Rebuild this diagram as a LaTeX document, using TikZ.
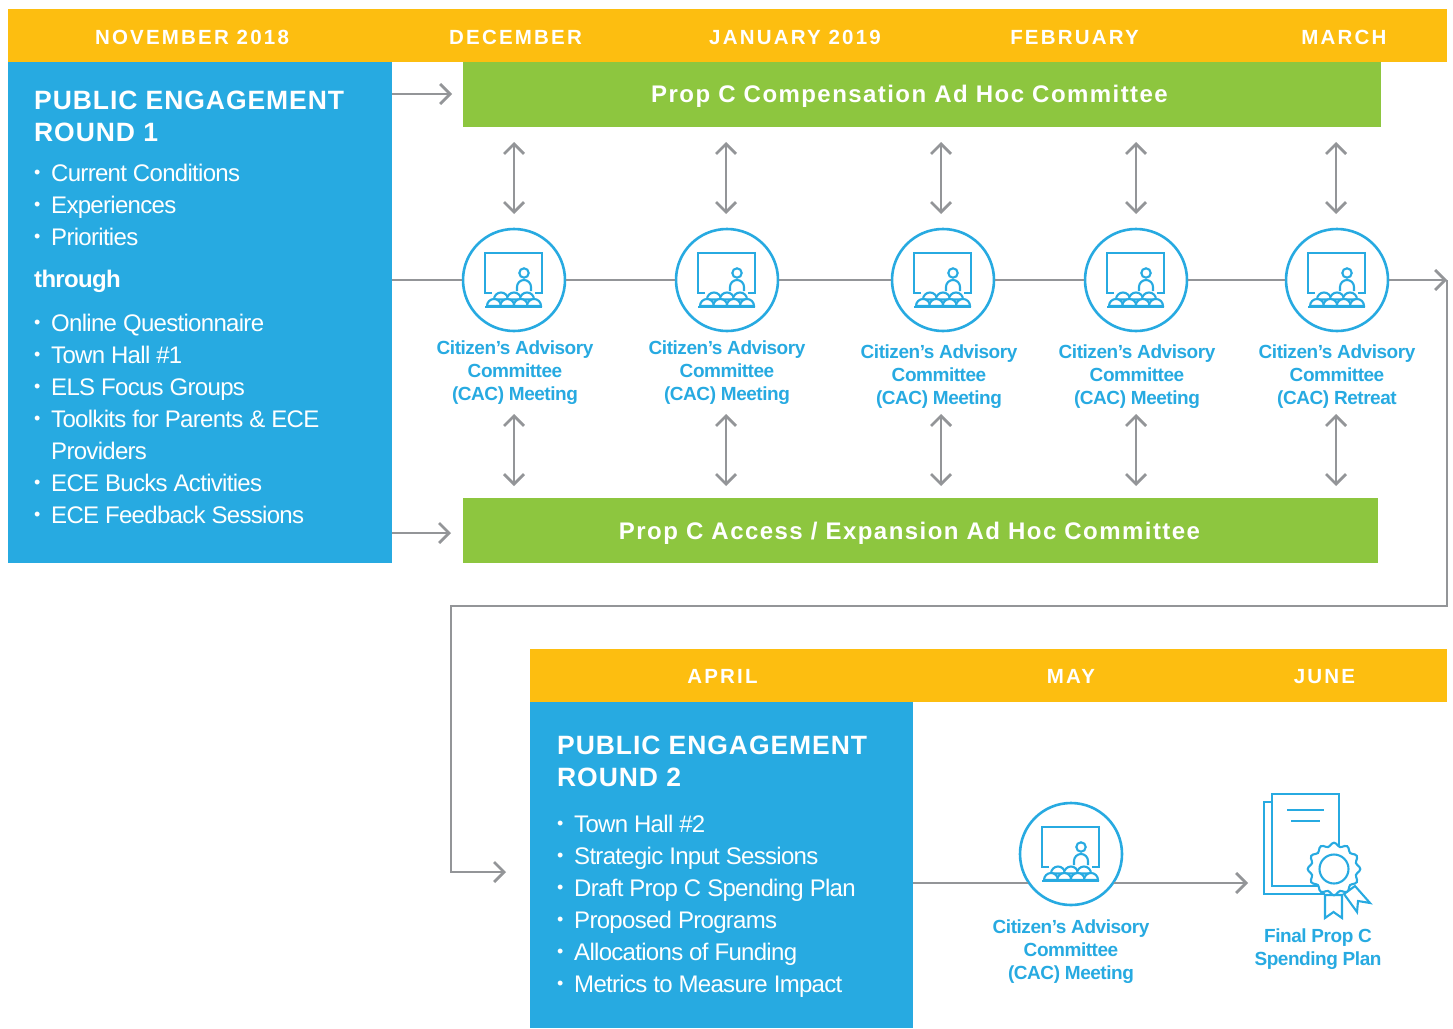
\documentclass[tikz,border=0pt]{standalone}
\usepackage{fontspec}
\usetikzlibrary{arrows.meta}
\setmainfont[LetterSpace=-2.9]{Liberation Sans}
\newfontfamily\capsfont[LetterSpace=10.7]{Liberation Sans}
\newfontfamily\barfont[LetterSpace=6]{Liberation Sans}
\newfontfamily\titlefont[LetterSpace=3.5]{Liberation Sans}
\newfontfamily\captionfont[LetterSpace=-2.4]{Liberation Sans}
\definecolor{bandyellow}{HTML}{FDBE10}
\definecolor{boxblue}{HTML}{27AAE1}
\definecolor{bargreen}{HTML}{8DC63F}
\definecolor{linegray}{HTML}{939598}
\tikzset{
    band/.style={fill=bandyellow,inner sep=0pt,minimum height=53pt},
    month/.style={anchor=base,text=white,inner sep=0pt,font=\capsfont\bfseries\fontsize{20.5}{24}\selectfont},
    bluebox/.style={fill=boxblue,inner sep=0pt},
    greenbar/.style={fill=bargreen,inner sep=0pt,minimum height=65pt},
    barlabel/.style={text=white,inner sep=0pt,font=\barfont\bfseries\fontsize{24}{28}\selectfont},
    boxtitle/.style={anchor=base west,text=white,inner sep=0pt,align=left,font=\titlefont\bfseries\fontsize{26.5}{32}\selectfont},
    boxitem/.style={anchor=base west,text=white,inner sep=0pt,font=\fontsize{24}{28}\selectfont},
    itemdot/.style={anchor=base west,text=white,inner sep=0pt,font=\fontsize{18}{28}\selectfont},
    meeting/.style={circle,draw=boxblue,line width=2.6pt,fill=white,minimum size=102pt,inner sep=0pt},
    caption/.style={text=boxblue,align=center,inner sep=0pt,font=\captionfont\bfseries\fontsize{19}{23}\selectfont},
    flow/.style={draw=linegray,line width=2.8pt},
    flowarrow/.style={flow,-{Straight Barb[length=10pt,width=20pt,line width=2.8pt]}},
    updown/.style={flow,{Straight Barb[length=10pt,width=20pt,line width=2.8pt]}-{Straight Barb[length=10pt,width=20pt,line width=2.8pt]}},
    icon/.style={draw=boxblue,line width=2.1pt}
}
\newcommand{\dome}[2]{\draw[icon,fill=white] (#1-7,#2) arc (180:0:7) -- cycle;}
\tikzset{
    cacicon/.pic={
        \draw[icon] (-22,-13) -- (-29,-13) -- (-29,27) -- (28,27) -- (28,-13) -- (21,-13);
        \draw[icon] (10,7) circle (4.7);
        \draw[icon] (3,-11) -- (3,-7) arc (180:0:7) -- (17,-11);
        \foreach \x in {-13,0,13} {\dome{\x}{-19.5}}
        \foreach \x in {-20,-6.7,6.7,20} {\dome{\x}{-26}}
        \draw[icon] (-29,-27) -- (28,-27);
    },
    planicon/.pic={
        \draw[icon] (0,0) rectangle (67,92);
        \draw[icon] (0,84) -- (-8,84) -- (-8,-8) -- (53,-8);
        \draw[icon] (15,76) -- (52,76);
        \draw[icon] (19,65) -- (48,65);
        \draw[icon,fill=white] (53,-9) -- (70,-9) -- (70,-32) -- (61.5,-26) -- (53,-32) -- cycle;
        \draw[icon,fill=white] (72,-8) -- (83,0) -- (98,-17) -- (86,-15) -- (85,-26) -- cycle;
        \draw[icon,fill=white] plot[domain=0:355,samples=72,smooth cycle] ({62+(24.5+1.8*cos(12*\x))*cos(\x)},{17+(24.5+1.8*cos(12*\x))*sin(\x)});
        \draw[icon] (62,17) circle (14.5);
    }
}
\begin{document}
\begin{tikzpicture}[x=1pt,y=1pt]
    \useasboundingbox (0,0) rectangle (1453,-1028);
    % top band
    \node[band,minimum width=1439pt] (bandA) at (727.5,-35.5) {};
    \node[month] (monthA) at (192,-44.5) {NOVEMBER 2018};
    \node[month] (monthB) at (515.5,-44.5) {DECEMBER};
    \node[month] (monthC) at (795,-44.5) {JANUARY 2019};
    \node[month] (monthD) at (1074.5,-44.5) {FEBRUARY};
    \node[month] (monthE) at (1344,-44.5) {MARCH};
    % round 1
    \node[bluebox,minimum width=384pt,minimum height=501pt] (roundA) at (200,-312.5) {};
    \node[boxtitle] (titleA) at (34,-109) {PUBLIC ENGAGEMENT};
    \node[boxtitle] (titleAb) at (34,-141) {ROUND 1};
    \foreach \n/\y/\txt in {a/181/Current Conditions,b/213/Experiences,c/245/Priorities,d/331/Online Questionnaire,e/363/Town Hall \#1,f/395/ELS Focus Groups,g/427/Toolkits for Parents \& ECE,i/491/ECE Bucks Activities,j/523/ECE Feedback Sessions}{
        \node[itemdot] (dot\n) at (34,-\y+3) {•};
        \node[boxitem] (item\n) at (51,-\y) {\txt};
    }
    \node[boxitem] (itemh) at (51,-459) {Providers};
    \node[boxitem,font=\bfseries\fontsize{24}{28}\selectfont] (through) at (34,-287) {through};
    % committees
    \node[greenbar,minimum width=918pt] (committeeA) at (922,-94.5) {};
    \node[barlabel] (committeeAtext) at (909.5,-96.5) {Prop C Compensation Ad Hoc Committee};
    \node[greenbar,minimum width=915pt] (committeeB) at (920.5,-530.5) {};
    \node[barlabel] (committeeBtext) at (909.5,-533) {Prop C Access / Expansion Ad Hoc Committee};
    % meetings
    \foreach \n/\x in {A/514,B/727,C/943,D/1136,E/1337}{
        \node[meeting] (meeting\n) at (\x,-280) {};
        \pic at (meeting\n) {cacicon};
    }
    \node[caption] (captionA) at (515,-373) {Citizen’s Advisory\\Committee\\(CAC) Meeting};
    \node[caption] (captionB) at (727,-373) {Citizen’s Advisory\\Committee\\(CAC) Meeting};
    \node[caption] (captionC) at (939,-377) {Citizen’s Advisory\\Committee\\(CAC) Meeting};
    \node[caption] (captionD) at (1137,-377) {Citizen’s Advisory\\Committee\\(CAC) Meeting};
    \node[caption] (captionE) at (1337,-377) {Citizen’s Advisory\\Committee\\(CAC) Retreat};
    % timeline
    \coordinate (railTop) at (1447,-280);
    \coordinate (railBottom) at (1447,-606);
    \coordinate (railLeft) at (451,-606);
    \coordinate (railEnd) at (451,-872);
    \coordinate (entryB) at (506,-872);
    \draw[flow] (roundA.east |- meetingA) -- (meetingA);
    \draw[flow] (meetingA) -- (meetingB);
    \draw[flow] (meetingB) -- (meetingC);
    \draw[flow] (meetingC) -- (meetingD);
    \draw[flow] (meetingD) -- (meetingE);
    \draw[flowarrow] (meetingE) -- (railTop);
    \draw[flowarrow] (railTop) -- (railBottom) -- (railLeft) -- (railEnd) -- (entryB);
    \coordinate (tipA) at (452,-94);
    \coordinate (tipB) at (451,-533);
    \draw[flowarrow] (roundA.east |- tipA) -- (tipA);
    \draw[flowarrow] (roundA.east |- tipB) -- (tipB);
    \foreach \n/\x in {A/514,B/726,C/941,D/1136,E/1336}{
        \coordinate (upper\n a) at (\x,-142);
        \coordinate (upper\n b) at (\x,-214);
        \coordinate (lower\n a) at (\x,-414);
        \coordinate (lower\n b) at (\x,-486);
        \draw[updown] (upper\n a) -- (upper\n b);
        \draw[updown] (lower\n a) -- (lower\n b);
    }
    % lower band
    \node[band,minimum width=917pt] (bandB) at (988.5,-675.5) {};
    \node[month] (monthF) at (722.5,-683.5) {APRIL};
    \node[month] (monthG) at (1071,-683.5) {MAY};
    \node[month] (monthH) at (1324.5,-683.5) {JUNE};
    % round 2
    \node[bluebox,minimum width=383pt,minimum height=326pt] (roundB) at (721.5,-865) {};
    \node[boxtitle] (titleB) at (557,-754) {PUBLIC ENGAGEMENT};
    \node[boxtitle] (titleBb) at (557,-786) {ROUND 2};
    \foreach \n/\y/\txt in {k/832/Town Hall \#2,l/864/Strategic Input Sessions,m/896/Draft Prop C Spending Plan,n/928/Proposed Programs,o/960/Allocations of Funding,p/992/Metrics to Measure Impact}{
        \node[itemdot] (dot\n) at (557,-\y+3) {•};
        \node[boxitem] (item\n) at (574,-\y) {\txt};
    }
    \node[meeting] (meetingF) at (1071,-854) {};
    \pic at (meetingF) {cacicon};
    \node[caption] (captionF) at (1071,-952) {Citizen’s Advisory\\Committee\\(CAC) Meeting};
    \coordinate (planTip) at (1248,-883);
    \draw[flow] (roundB.east |- planTip) -- (meetingF.214.6 |- planTip);
    \draw[flowarrow] (meetingF.325.4 |- planTip) -- (planTip);
    % final plan
    \pic at (1272,-886) {planicon};
    \node[caption] (captionG) at (1318,-949) {Final Prop C\\Spending Plan};
\end{tikzpicture}
\end{document}
